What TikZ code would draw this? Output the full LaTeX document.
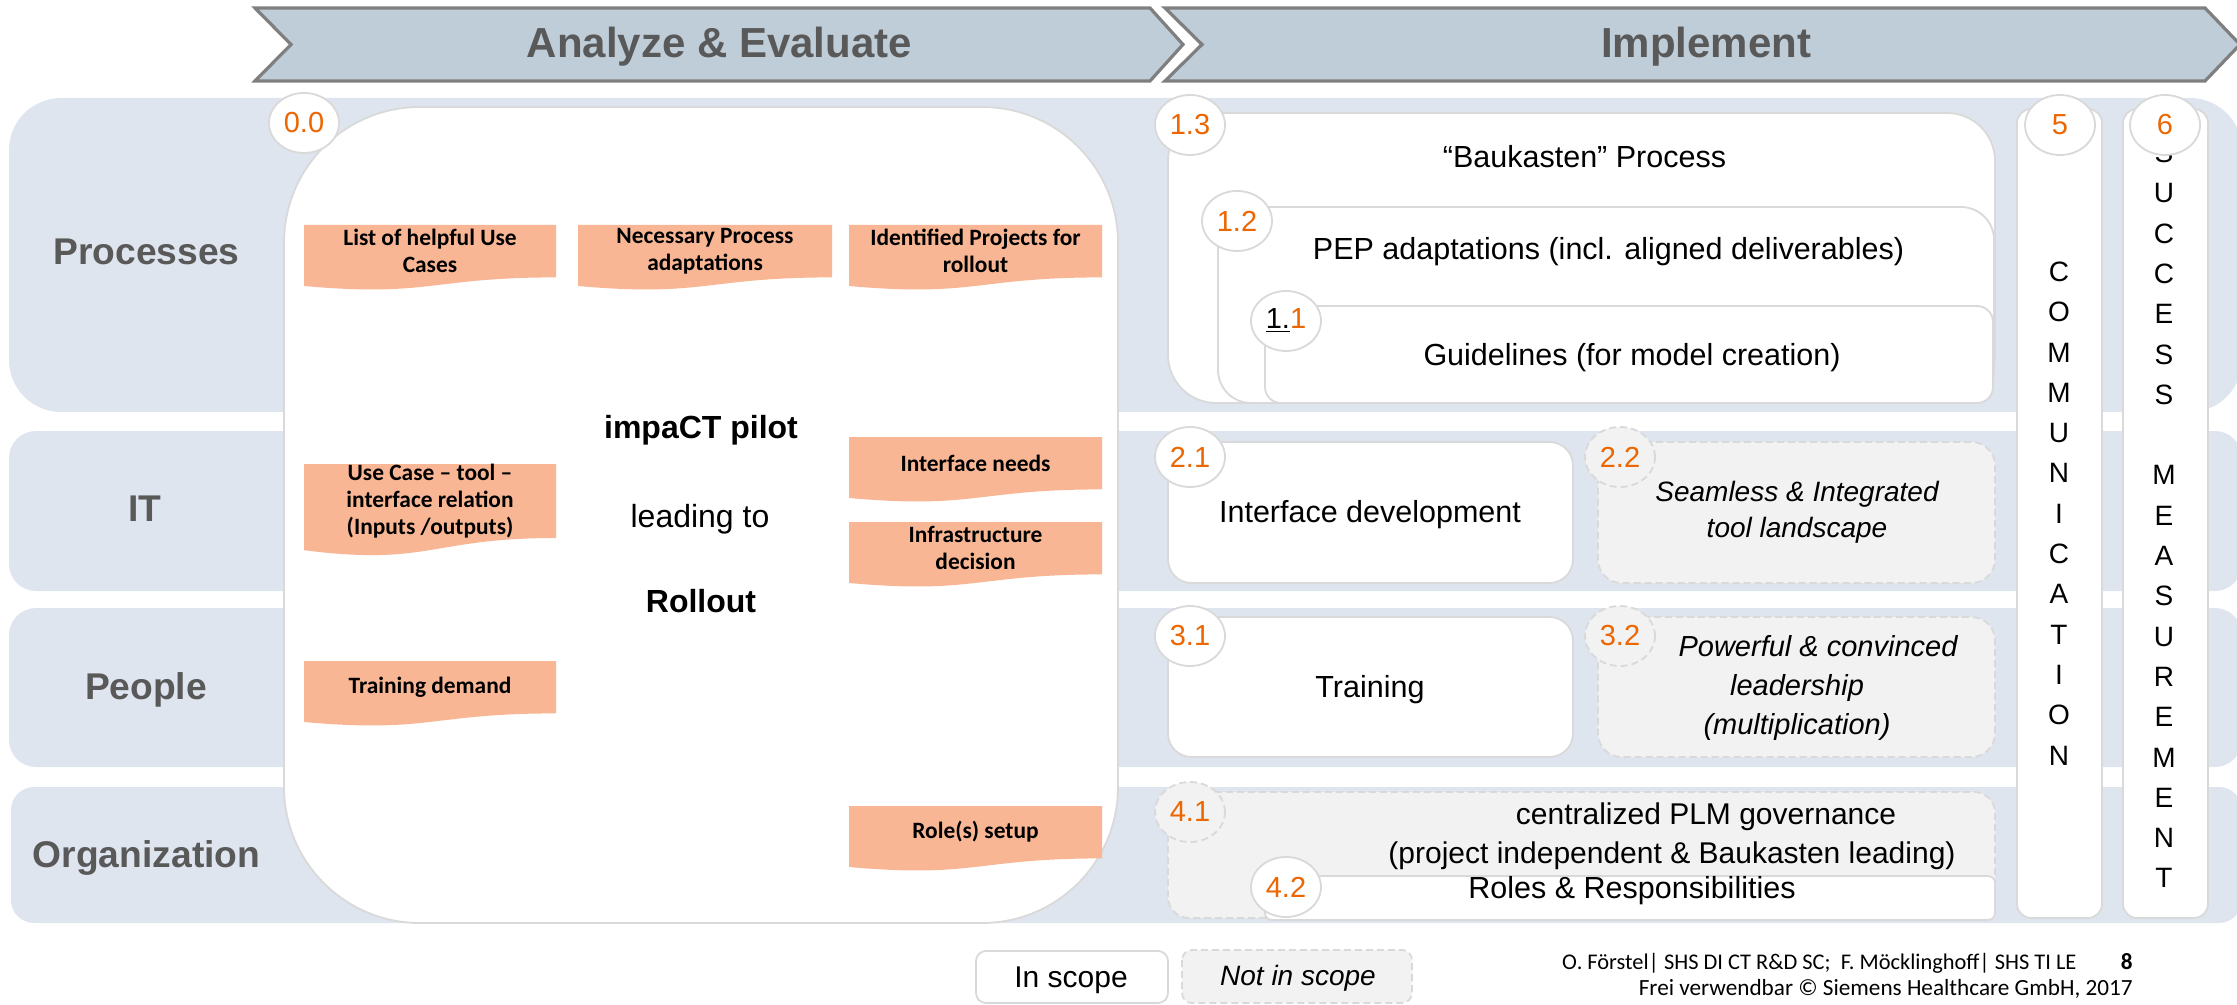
\documentclass[tikz,border=0pt]{standalone}
\usepackage{fontspec}
\setmainfont{Liberation Sans}
\newfontfamily\calibfont{Carlito}
\usetikzlibrary{shapes.geometric}

\definecolor{bandgray}{HTML}{DFE5EE}
\definecolor{chevfill}{HTML}{BFCDD8}
\definecolor{chevline}{HTML}{7F7F7F}
\definecolor{labelgray}{HTML}{595959}
\definecolor{shsorange}{HTML}{EC6602}
\definecolor{notefill}{HTML}{F8B694}
\definecolor{boxline}{HTML}{D9D9D9}
\definecolor{outfill}{HTML}{F2F2F2}

\tikzset{
  chevron/.style={fill=chevfill, draw=chevline, line width=1.6pt},
  band/.style={fill=bandgray},
  inbox/.style={fill=white, draw=boxline, line width=0.9pt},
  outbox/.style={fill=outfill, draw=boxline, line width=0.9pt, dash pattern=on 3.5pt off 2pt},
  inbadge/.style={ellipse, fill=white, draw=boxline, line width=0.9pt, minimum width=35pt,
    minimum height=30pt, inner sep=0pt, text=shsorange, font=\fontsize{14.5pt}{17pt}\selectfont},
  outbadge/.style={inbadge, fill=outfill, dash pattern=on 3.5pt off 2pt},
  headtext/.style={anchor=base, inner sep=0pt, text=labelgray, font=\fontsize{21pt}{25pt}\selectfont\bfseries},
  rowlabel/.style={anchor=base, inner sep=0pt, text=labelgray, font=\fontsize{18.6pt}{22pt}\selectfont\bfseries},
  note/.style={fill=notefill},
  notetext/.style={align=center, inner sep=0pt, font=\calibfont\bfseries\fontsize{11.7pt}{13.5pt}\selectfont},
  pilottext/.style={anchor=base, inner sep=0pt, font=\fontsize{16pt}{19pt}\selectfont},
  boxtext/.style={anchor=base, inner sep=0pt, font=\fontsize{15.25pt}{19.5pt}\selectfont},
  vertext/.style={align=center, inner sep=0pt, font=\fontsize{14pt}{20.15pt}\selectfont},
  footer/.style={anchor=base east, inner sep=0pt, font=\calibfont\fontsize{11.6pt}{13pt}\selectfont}
}

\begin{document}
\begin{tikzpicture}[x=0.5pt, y=-0.5pt]
  \useasboundingbox (0,0) rectangle (2237,1005);

  % phase arrows
  \draw[chevron] (255,8) -- (1150,8) -- (1183,44.5) -- (1150,81) -- (255,81) -- (291,44.5) -- cycle;
  \draw[chevron] (1165,8) -- (2205,8) -- (2240,44.5) -- (2205,81) -- (1165,81) -- (1202,44.5) -- cycle;
  \node[headtext] (analyze) at (719.5,57.5) {Analyze \& Evaluate};
  \node[headtext] (implement) at (1706,57.5) {Implement};

  % row bands
  \fill[band, rounded corners=26pt] (9,98) rectangle (2242,412);
  \fill[band, rounded corners=13.5pt] (9,431) rectangle (2242,591);
  \fill[band, rounded corners=13.5pt] (9,608) rectangle (2242,767);
  \fill[band, rounded corners=11.5pt] (11,787) rectangle (2242,923);

  \node[rowlabel] (processes) at (146.5,265) {Processes};
  \node[rowlabel] (it) at (145,521.5) {IT};
  \node[rowlabel] (people) at (146,699) {People};
  \node[rowlabel] (organization) at (146.5,867) {Organization};

  % pilot
  \draw[inbox, rounded corners=68pt] (284,107) rectangle (1118,923);
  \node[inbadge] (b00) at (304,123) {0.0};

  \fill[note] (304,225) -- (556,225) -- (556,277.4) .. controls (430,277.4) and (430,297.3) .. (304,286) -- cycle;
  \node[notetext] (usecases) at (430,251) {List of helpful Use\\Cases};
  \fill[note] (578,225) -- (832,225) -- (832,277.4) .. controls (705,277.4) and (705,297.3) .. (578,286) -- cycle;
  \node[notetext] (adapt) at (705,251) {Necessary Process\\adaptations};
  \fill[note] (849,225) -- (1102,225) -- (1102,277.4) .. controls (975.5,277.4) and (975.5,297.3) .. (849,286) -- cycle;
  \node[notetext] (projects) at (975.5,251) {Identified Projects for\\rollout};
  \fill[note] (304,464) -- (556,464) -- (556,538) .. controls (430,538) and (430,566.2) .. (304,550.2) -- cycle;
  \node[notetext] (relation) at (430,501) {Use Case – tool –\\interface relation\\(Inputs /outputs)};
  \fill[note] (849,437) -- (1102,437) -- (1102,489.4) .. controls (975.5,489.4) and (975.5,509.3) .. (849,498) -- cycle;
  \node[notetext] (ifneeds) at (975.5,463) {Interface needs};
  \fill[note] (849,522) -- (1102,522) -- (1102,574.4) .. controls (975.5,574.4) and (975.5,594.3) .. (849,583) -- cycle;
  \node[notetext] (infra) at (975.5,548) {Infrastructure\\decision};
  \fill[note] (304,661) -- (556,661) -- (556,713.4) .. controls (430,713.4) and (430,733.3) .. (304,722) -- cycle;
  \node[notetext] (demand) at (430,687) {Training demand};
  \fill[note] (849,806) -- (1102,806) -- (1102,858.4) .. controls (975.5,858.4) and (975.5,878.3) .. (849,867) -- cycle;
  \node[notetext] (rolesetup) at (975.5,832) {Role(s) setup};

  \node[pilottext, font=\fontsize{16pt}{19pt}\selectfont\bfseries] (pilot) at (701,438.6) {impaCT pilot};
  \node[pilottext] (leading) at (700,527) {leading to};
  \node[pilottext, font=\fontsize{16pt}{19pt}\selectfont\bfseries] (rollout) at (701,612) {Rollout};

  % processes
  \draw[inbox, rounded corners=24pt] (1168,113) rectangle (1995,403);
  \node[inbadge] (b13) at (1190,125) {1.3};
  \node[boxtext] (baukasten) at (1584.5,168) {“Baukasten” Process};
  \draw[inbox, rounded corners=16.5pt] (1218,207) rectangle (1994,403);
  \node[inbadge] (b12) at (1237,221) {1.2};
  \node[boxtext] (pep) at (1608.5,260) {PEP adaptations (incl. aligned deliverables)};
  \draw[inbox, rounded corners=8pt] (1265,306) rectangle (1993,403);
  \node[inbadge] (b11) at (1286,321) {\textcolor{black}{\underline{1.}}1};
  \node[boxtext] (guide) at (1632,365) {Guidelines (for model creation)};

  % IT
  \draw[inbox, rounded corners=11.75pt] (1168,442) rectangle (1573,583);
  \node[inbadge] (b21) at (1190,457) {2.1};
  \node[boxtext] (ifdev) at (1370,522) {Interface development};
  \draw[outbox, rounded corners=11.75pt] (1598,442) rectangle (1995,583);
  \node[outbadge] (b22) at (1620,457) {2.2};
  \node[align=center, inner sep=0pt, font=\itshape\fontsize{14pt}{18pt}\selectfont] (seamless) at (1797,512.7)
    {Seamless \& Integrated\\tool landscape};

  % people
  \draw[inbox, rounded corners=11.75pt] (1168,617) rectangle (1573,757);
  \node[inbadge] (b31) at (1190,636) {3.1};
  \node[boxtext] (training) at (1370,697) {Training};
  \draw[outbox, rounded corners=11.75pt] (1598,617) rectangle (1995,757);
  \node[outbadge] (b32) at (1620,636) {3.2};
  \node[align=center, inner sep=0pt, font=\itshape\fontsize{14.5pt}{19.5pt}\selectfont] (leader) at (1797,688.4)
    {\hspace*{21pt}Powerful \& convinced\\leadership\\(multiplication)};

  % organization
  \draw[outbox, rounded corners=10.5pt] (1168,792) rectangle (1995,918);
  \node[outbadge] (b41) at (1190,812) {4.1};
  \node[align=center, inner sep=0pt, font=\fontsize{15pt}{19.5pt}\selectfont] (plm) at (1672,836.7)
    {\hspace*{34pt}centralized PLM governance\\(project independent \& Baukasten leading)};
  \draw[inbox, rounded corners=3.5pt] (1265,876) rectangle (1995,920);
  \node[inbadge] (b42) at (1286,887) {4.2};
  \node[boxtext] (roles) at (1632,898) {Roles \& Responsibilities};

  % columns 5 and 6
  \draw[inbox, rounded corners=7pt] (2017,109) rectangle (2102,918);
  \draw[inbox, rounded corners=7pt] (2123,109) rectangle (2208,918);
  \node[vertext] (comm) at (2059,513.5) {C\\O\\M\\M\\U\\N\\I\\C\\A\\T\\I\\O\\N};
  \node[vertext] (success) at (2164,515.5)
    {S\\U\\C\\C\\E\\S\\S\\[20.15pt]M\\E\\A\\S\\U\\R\\E\\M\\E\\N\\T};
  \node[inbadge] (b5) at (2060,125) {5};
  \node[inbadge] (b6) at (2165,125) {6};

  % legend
  \draw[inbox, rounded corners=5pt] (976,951) rectangle (1168,1003);
  \node[boxtext, font=\fontsize{15pt}{18pt}\selectfont] (inscope) at (1071,987) {In scope};
  \draw[outbox, rounded corners=5pt] (1182,950) rectangle (1412,1003);
  \node[boxtext, font=\itshape\fontsize{14pt}{17pt}\selectfont] (notinscope) at (1298,985) {Not in scope};

  % footer
  \node[footer, font=\calibfont\fontsize{11.2pt}{13pt}\selectfont] (authors) at (2077,969)
    {O. Förstel| SHS DI CT R\&D SC;\ \ F. Möcklinghoff| SHS TI LE};
  \node[footer, font=\calibfont\bfseries\fontsize{11.6pt}{13pt}\selectfont] (page) at (2133,969) {8};
  \node[footer] (rights) at (2133,995) {Frei verwendbar © Siemens Healthcare GmbH, 2017};
\end{tikzpicture}
\end{document}
